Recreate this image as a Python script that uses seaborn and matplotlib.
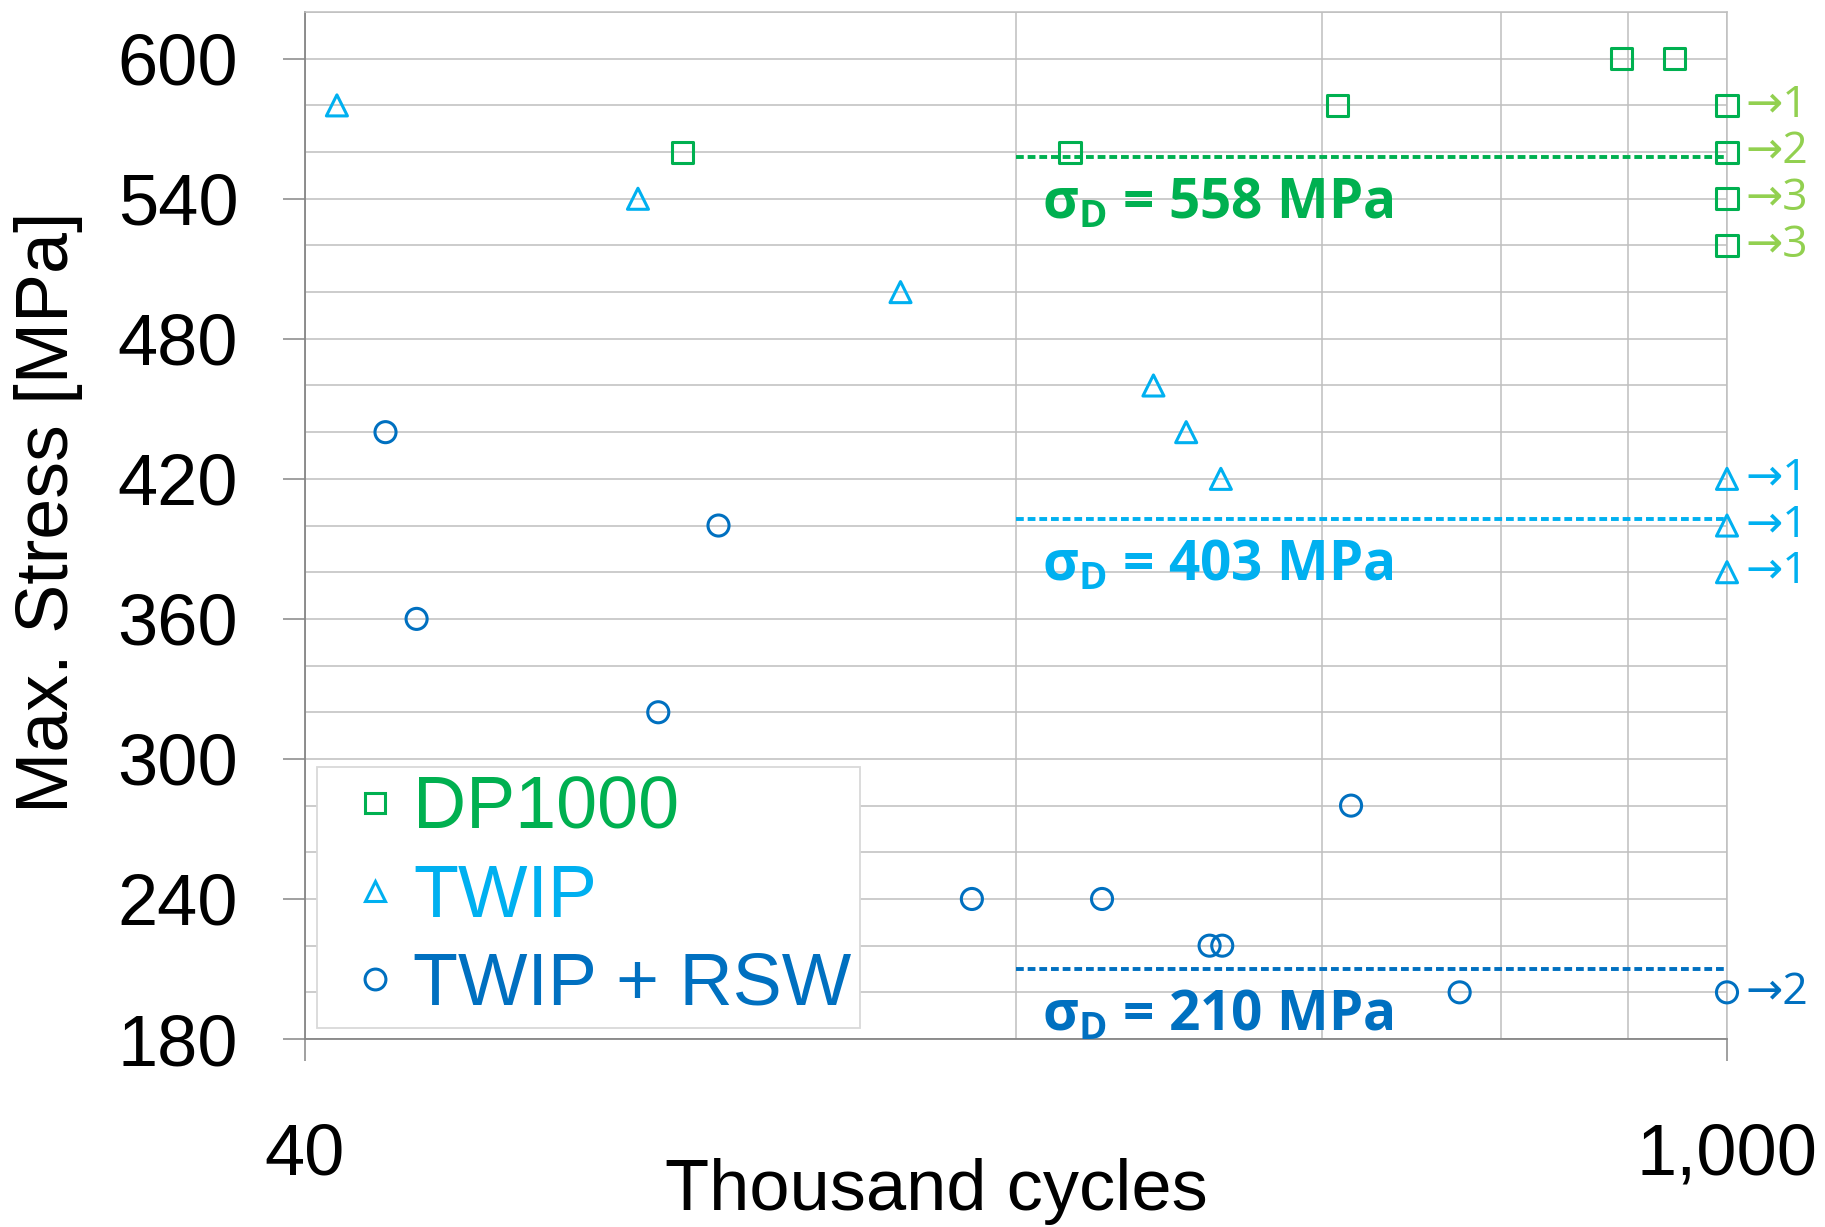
import matplotlib
matplotlib.use('Agg')
from matplotlib import pyplot as plt
from matplotlib.lines import Line2D
from matplotlib.ticker import FixedLocator, NullFormatter
import seaborn as sns
import pandas as pd

# data (x in thousand cycles, y in MPa)
dp_x = [94, 226, 414, 787, 888, 1000, 1000, 1000, 1000]
dp_y = [560, 560, 580, 600, 600, 580, 560, 540, 520]
twip_x = [43, 85, 154, 273, 294, 318, 1000, 1000, 1000]
twip_y = [580, 540, 500, 460, 440, 420, 420, 400, 380]
rsw_x = [48, 51.5, 89, 102, 181, 243, 310, 319, 427, 546, 1000]
rsw_y = [440, 360, 320, 400, 240, 240, 220, 220, 280, 200, 200]

series = ['DP1000', 'TWIP', 'TWIP + RSW']
colors = {'DP1000': '#00B050', 'TWIP': '#00B0F0', 'TWIP + RSW': '#0070C0'}
runout_colors = {'DP1000': '#92D050', 'TWIP': '#00B0F0', 'TWIP + RSW': '#0070C0'}
markers = {'DP1000': 's', 'TWIP': '^', 'TWIP + RSW': 'o'}

# runouts at 1000 thousand cycles: stress -> number of specimens
runout_y = {'DP1000': [580, 560, 540, 520], 'TWIP': [420, 400, 380], 'TWIP + RSW': [200]}
runout_n = {'DP1000': [1, 2, 3, 3], 'TWIP': [1, 1, 1], 'TWIP + RSW': [2]}

# endurance limits
sigma_d = [558, 403, 210]
sigma_start = 200
sigma_end = 1000

df = pd.concat([
    pd.DataFrame({'cycles': dp_x, 'stress': dp_y, 'material': 'DP1000'}),
    pd.DataFrame({'cycles': twip_x, 'stress': twip_y, 'material': 'TWIP'}),
    pd.DataFrame({'cycles': rsw_x, 'stress': rsw_y, 'material': 'TWIP + RSW'}),
], ignore_index=True)

sns.set_theme(style='white')
plt.rcParams['font.family'] = ['Liberation Sans', 'DejaVu Sans']
plt.rcParams['text.color'] = 'black'
plt.rcParams['axes.labelcolor'] = 'black'
plt.rcParams['xtick.labelcolor'] = 'black'
plt.rcParams['ytick.labelcolor'] = 'black'
plt.rcParams['mathtext.fontset'] = 'custom'
plt.rcParams['mathtext.rm'] = 'Open Sans:bold'
plt.rcParams['mathtext.it'] = 'Open Sans:bold'
plt.rcParams['mathtext.bf'] = 'Open Sans:bold'

fig = plt.figure(figsize=(18.25, 12.27), dpi=100)
ax = fig.add_axes([0.1671, 0.1532, 0.7792, 0.8370])

sns.scatterplot(data=df, x='cycles', y='stress', hue='material', style='material',
                palette=colors, markers=markers, s=230, linewidth=2.2,
                legend=False, ax=ax, clip_on=False, zorder=5)
# hollow markers
coll = ax.collections[0]
coll.set_edgecolors(coll.get_facecolors())
coll.set_facecolors('none')

ax.set_xscale('log')
ax.set_xlim(40, 1000)
ax.set_ylim(180, 620)

grid_c = '#BFBFBF'
axis_c = '#868686'

# x axis
ax.xaxis.set_major_locator(FixedLocator([40, 1000]))
ax.set_xticklabels(['40', '1,000'])
ax.xaxis.set_minor_locator(FixedLocator([200, 400, 600, 800]))
ax.xaxis.set_minor_formatter(NullFormatter())
ax.tick_params(axis='x', which='major', direction='out', length=16, width=1.1,
               color=axis_c, pad=44, labelsize=52, labelcolor='black', bottom=True)
ax.tick_params(axis='x', which='minor', length=0)

# y axis
ax.set_yticks([180, 240, 300, 360, 420, 480, 540, 600])
ax.yaxis.set_minor_locator(FixedLocator(list(range(200, 621, 20))))
ax.tick_params(axis='y', which='major', direction='out', length=16, width=1.1,
               color=axis_c, pad=32, labelsize=52, labelcolor='black', left=True)
ax.tick_params(axis='y', which='minor', length=0)

ax.grid(True, which='both', color=grid_c, linewidth=1.1)
ax.set_axisbelow(True)

for side in ['left', 'bottom']:
    ax.spines[side].set_color(axis_c)
    ax.spines[side].set_linewidth(1.3)
for side in ['top', 'right']:
    ax.spines[side].set_color(grid_c)
    ax.spines[side].set_linewidth(1.1)

ax.set_xlabel('Thousand cycles', fontsize=52, color='black')
ax.xaxis.set_label_coords(0.444, -0.116)
ax.set_ylabel('Max. Stress [MPa]', fontsize=53, color='black')
ax.yaxis.set_label_coords(-0.156, 0.513)

# endurance limit lines and labels
for val, name in zip(sigma_d, series):
    ax.hlines(val, sigma_start, sigma_end, colors=colors[name], linestyles=(0, (2.0, 1.0)),
              linewidth=2.8, zorder=4)
    ax.text(212, val - 20, r'$\mathbf{σ_D}$ = ' + f'{val} MPa', color=colors[name],
            fontsize=39.5, fontweight='bold', family=['Open Sans', 'DejaVu Sans'],
            va='center', ha='left', zorder=6)

# runout labels
for name in series:
    for yv, n in zip(runout_y[name], runout_n[name]):
        ax.annotate(f'→{n}', xy=(1000, yv), xytext=(13, 0), textcoords='offset points',
                    color=runout_colors[name], fontsize=32, va='center', ha='left',
                    family=['Open Sans', 'DejaVu Sans'], annotation_clip=False)

handles = [Line2D([], [], linestyle='', marker=markers[n], markersize=15,
                  markerfacecolor='none', markeredgecolor=colors[n], markeredgewidth=2.2)
           for n in series]
leg = ax.legend(handles, series, loc='lower left', bbox_to_anchor=(0.0084, 0.0107),
                borderaxespad=0, fontsize=53, frameon=True, fancybox=False,
                handlelength=1.36, handletextpad=-0.16, labelspacing=0.26,
                borderpad=0.11, edgecolor='#D9D9D9', framealpha=1)
leg.get_frame().set_linewidth(1.3)
for txt, n in zip(leg.get_texts(), series):
    txt.set_color(colors[n])

fig.savefig('out.png', dpi=100)
